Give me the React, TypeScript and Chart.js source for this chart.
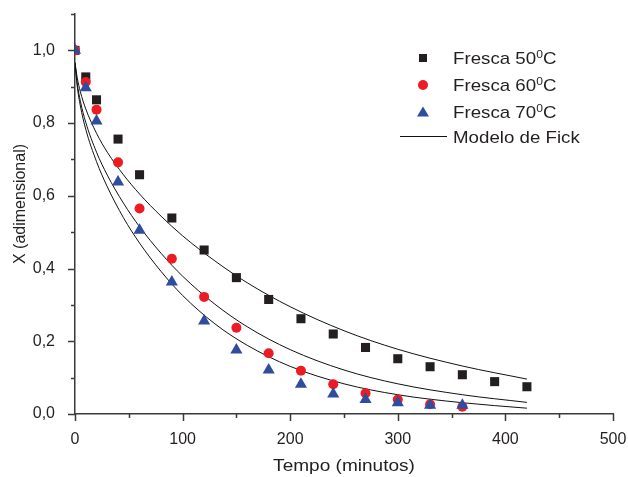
import React, { useEffect, useRef } from 'react';
import { Chart, registerables } from 'chart.js';

Chart.register(...registerables);

// Experimental points (X adimensional vs time in minutes)
const times = [0, 10, 20, 40, 60, 90, 120, 150, 180, 210, 240, 270, 300, 330, 360, 390, 420];
const fresca50 = [1.0, 0.927, 0.864, 0.756, 0.658, 0.539, 0.451, 0.375, 0.315, 0.262, 0.22, 0.183, 0.152, 0.13, 0.108, 0.089, 0.075];
const fresca60 = [1.0, 0.913, 0.837, 0.692, 0.565, 0.427, 0.322, 0.237, 0.167, 0.119, 0.082, 0.057, 0.04, 0.027, 0.02];
const fresca70 = [1.0, 0.897, 0.806, 0.638, 0.505, 0.363, 0.256, 0.176, 0.121, 0.082, 0.055, 0.04, 0.031, 0.024, 0.024];

// Fick model curves
const modelTimes = [0, 2, 5, 10, 20, 30, 45, 60, 80, 100, 130, 160, 200, 250, 300, 360, 420];
const fick50 = [0.966, 0.926, 0.886, 0.839, 0.772, 0.72, 0.658, 0.605, 0.544, 0.49, 0.421, 0.361, 0.295, 0.229, 0.178, 0.132, 0.096];
const fick60 = [0.966, 0.911, 0.86, 0.802, 0.72, 0.657, 0.58, 0.515, 0.442, 0.379, 0.302, 0.24, 0.177, 0.121, 0.083, 0.053, 0.032];
const fick70 = [0.966, 0.903, 0.847, 0.783, 0.694, 0.625, 0.54, 0.47, 0.392, 0.326, 0.248, 0.189, 0.131, 0.083, 0.053, 0.031, 0.016];

const xMajor = [0, 100, 200, 300, 400, 500];
const xMinor = [50, 150, 250, 350, 450];
const yMajor = [0, 0.2, 0.4, 0.6, 0.8, 1.0];
const yMinor = [0.1, 0.3, 0.5, 0.7, 0.9, 1.1];

const legendLabels = ['Fresca 50', 'Fresca 60', 'Fresca 70'];
const modelLabel = 'Modelo de Fick';
const xTitle = 'Tempo (minutos)';
const yTitle = 'X (adimensional)';

const FONT = "'Liberation Sans', Arial, Helvetica, sans-serif";
const TEXT = '#231f20';
const AXIS = '#3a3a3a';
const C_SQ = '#231f20';
const C_CI = '#ed1c24';
const C_TR = '#2e4d9e';

const pts = (xs: number[], ys: number[]) => ys.map((y, i) => ({ x: xs[i], y }));

const decorPlugin = {
  id: 'decor',
  afterDraw(chart: any) {
    const ctx: CanvasRenderingContext2D = chart.ctx;
    const xs = chart.scales.x;
    const ys = chart.scales.y;
    const left = chart.chartArea.left;
    const bottom = chart.chartArea.bottom;
    ctx.save();
    ctx.strokeStyle = AXIS;
    ctx.lineWidth = 1.5;
    ctx.beginPath();
    yMajor.forEach((v) => {
      const y = Math.round(ys.getPixelForValue(v)) + 0.5;
      ctx.moveTo(left, y);
      ctx.lineTo(left - 7, y);
    });
    yMinor.forEach((v) => {
      const y = Math.round(ys.getPixelForValue(v)) + 0.5;
      ctx.moveTo(left, y);
      ctx.lineTo(left - 4, y);
    });
    xMajor.forEach((v) => {
      const x = Math.round(xs.getPixelForValue(v)) + 0.5;
      ctx.moveTo(x, bottom);
      ctx.lineTo(x, bottom + 7);
    });
    xMinor.forEach((v) => {
      const x = Math.round(xs.getPixelForValue(v)) + 0.5;
      ctx.moveTo(x, bottom);
      ctx.lineTo(x, bottom + 4);
    });
    ctx.stroke();

    // axis titles
    ctx.fillStyle = TEXT;
    ctx.textAlign = 'center';
    ctx.textBaseline = 'middle';
    ctx.font = `17px ${FONT}`;
    ctx.save();
    ctx.translate(344, 466);
    ctx.scale(1.12, 1);
    ctx.fillText(xTitle, 0, 0);
    ctx.restore();

    ctx.font = `16px ${FONT}`;
    ctx.save();
    ctx.translate(21, 204);
    ctx.rotate(-Math.PI / 2);
    ctx.fillText(yTitle, 0, 0);
    ctx.restore();

    // legend
    const mx = 423;
    const tx = 453;
    const rows = [58, 85, 112];
    ctx.fillStyle = C_SQ;
    ctx.fillRect(mx - 4, rows[0] - 4, 8, 8);
    ctx.fillStyle = C_CI;
    ctx.beginPath();
    ctx.arc(mx, rows[1], 5, 0, Math.PI * 2);
    ctx.fill();
    ctx.fillStyle = C_TR;
    ctx.beginPath();
    ctx.moveTo(mx, rows[2] - 5.5);
    ctx.lineTo(mx + 6, rows[2] + 4.5);
    ctx.lineTo(mx - 6, rows[2] + 4.5);
    ctx.closePath();
    ctx.fill();
    ctx.strokeStyle = '#111';
    ctx.lineWidth = 1;
    ctx.beginPath();
    ctx.moveTo(400, 136.5);
    ctx.lineTo(447, 136.5);
    ctx.stroke();

    const sx = 1.1;
    ctx.fillStyle = TEXT;
    ctx.textAlign = 'left';
    ctx.textBaseline = 'alphabetic';
    legendLabels.forEach((lab, i) => {
      const base = rows[i] + 6;
      ctx.save();
      ctx.translate(tx, base);
      ctx.scale(sx, 1);
      ctx.font = `17px ${FONT}`;
      ctx.fillText(lab, 0, 0);
      let w = ctx.measureText(lab).width;
      ctx.font = `11px ${FONT}`;
      ctx.fillText('0', w, -6);
      w += ctx.measureText('0').width;
      ctx.font = `17px ${FONT}`;
      ctx.fillText('C', w, 0);
      ctx.restore();
    });
    ctx.save();
    ctx.translate(tx, 137 + 6);
    ctx.scale(sx, 1);
    ctx.font = `17px ${FONT}`;
    ctx.fillText(modelLabel, 0, 0);
    ctx.restore();

    ctx.restore();
  },
};

export default function App() {
  const ref = useRef<HTMLCanvasElement | null>(null);

  useEffect(() => {
    if (!ref.current) return;
    const lineDs = (data: number[]) => ({
      data: pts(modelTimes, data),
      showLine: true,
      pointRadius: 0,
      borderColor: '#111',
      borderWidth: 1,
      backgroundColor: '#111',
      cubicInterpolationMode: 'monotone',
      fill: false,
      order: 4,
    });
    const chart = new Chart(ref.current, {
      type: 'scatter',
      data: {
        datasets: [
          lineDs(fick50) as any,
          lineDs(fick60) as any,
          lineDs(fick70) as any,
          {
            data: pts(times, fresca50),
            pointStyle: 'rect',
            pointRadius: 6.4,
            backgroundColor: C_SQ,
            borderColor: C_SQ,
            borderWidth: 0,
            order: 3,
          },
          {
            data: pts(times, fresca60),
            pointStyle: 'circle',
            pointRadius: 5,
            backgroundColor: C_CI,
            borderColor: C_CI,
            borderWidth: 0,
            order: 2,
          },
          {
            data: pts(times, fresca70),
            pointStyle: 'triangle',
            pointRadius: 7,
            backgroundColor: C_TR,
            borderColor: C_TR,
            borderWidth: 0,
            order: 1,
          },
        ],
      },
      options: {
        responsive: false,
        animation: false,
        events: [],
        layout: { padding: { top: 14, right: 15, left: 0, bottom: 0 } },
        plugins: { legend: { display: false }, tooltip: { enabled: false } },
        scales: {
          x: {
            type: 'linear',
            position: 'bottom',
            min: 0,
            max: 500,
            grid: { display: false },
            border: { display: true, color: AXIS, width: 1.5 },
            afterBuildTicks: (s: any) => {
              s.ticks = xMajor.map((v) => ({ value: v }));
            },
            afterFit: (s: any) => {
              s.height = 63;
              s.paddingLeft = 0;
              s.paddingRight = 0;
              s.paddingTop = 0;
              s.paddingBottom = 0;
            },
            ticks: {
              padding: 8,
              color: TEXT,
              font: { family: FONT, size: 16 },
              maxRotation: 0,
              callback: (v: any) => String(v),
            },
          },
          y: {
            type: 'linear',
            position: 'left',
            min: 0,
            max: 1.1,
            grid: { display: false },
            border: { display: true, color: AXIS, width: 1.5 },
            afterBuildTicks: (s: any) => {
              s.ticks = yMajor.map((v) => ({ value: v }));
            },
            afterFit: (s: any) => {
              s.width = 75;
              s.paddingLeft = 0;
              s.paddingRight = 0;
              s.paddingTop = 0;
              s.paddingBottom = 0;
            },
            ticks: {
              padding: 12,
              color: TEXT,
              font: { family: FONT, size: 16 },
              callback: (v: any) => Number(v).toFixed(1).replace('.', ','),
            },
          },
        },
      },
      plugins: [decorPlugin],
    });
    return () => chart.destroy();
  }, []);

  return (
    <div style={{ position: 'absolute', left: 0, top: 0, width: 628, height: 477, background: '#fff' }}>
      <canvas ref={ref} width={628} height={477} />
    </div>
  );
}
